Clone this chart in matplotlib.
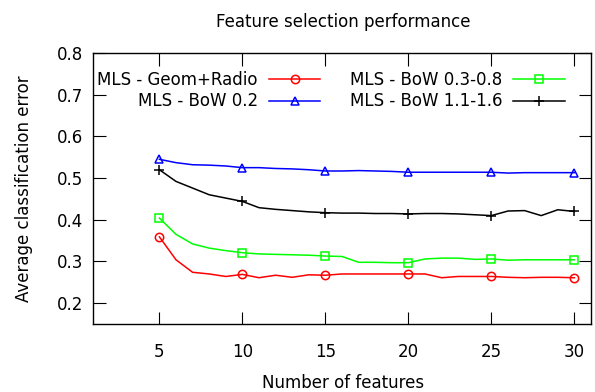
import matplotlib
matplotlib.use('Agg')
import matplotlib.pyplot as plt

# number of features
features = list(range(5, 31))

geom_radio = [0.359, 0.304, 0.274, 0.270, 0.264, 0.269, 0.261, 0.267, 0.262, 0.268, 0.267,
              0.270, 0.270, 0.270, 0.270, 0.270, 0.270, 0.261, 0.264, 0.264, 0.264,
              0.262, 0.261, 0.262, 0.262, 0.261]
bow_02 = [0.545, 0.537, 0.532, 0.531, 0.529, 0.525, 0.525, 0.523, 0.522, 0.520, 0.517,
          0.517, 0.518, 0.517, 0.516, 0.514, 0.514, 0.514, 0.514, 0.514, 0.514,
          0.512, 0.513, 0.513, 0.513, 0.513]
bow_03_08 = [0.404, 0.365, 0.342, 0.332, 0.326, 0.321, 0.318, 0.317, 0.316, 0.315, 0.313,
             0.312, 0.298, 0.298, 0.297, 0.297, 0.306, 0.308, 0.308, 0.305, 0.306,
             0.303, 0.304, 0.304, 0.304, 0.304]
bow_11_16 = [0.520, 0.492, 0.476, 0.460, 0.452, 0.444, 0.429, 0.425, 0.422, 0.419, 0.417,
             0.416, 0.416, 0.415, 0.415, 0.414, 0.415, 0.415, 0.414, 0.412, 0.410,
             0.421, 0.422, 0.410, 0.424, 0.420]

series = [
    ('MLS - Geom+Radio', geom_radio, '#ff0000', 'o'),
    ('MLS - BoW 0.2', bow_02, '#0000ff', '^'),
    ('MLS - BoW 0.3-0.8', bow_03_08, '#00ff00', 's'),
    ('MLS - BoW 1.1-1.6', bow_11_16, '#000000', '+'),
]

plt.rcParams['font.family'] = ['DejaVu Sans']
fs = 12

fig = plt.figure(figsize=(5.95, 3.92), dpi=100)
ax = fig.add_axes([93 / 595, 1 - 324 / 392, (591 - 93) / 595, (324 - 53) / 392])

for label, vals, color, marker in series:
    ax.plot(features, vals, color=color, lw=1.1, marker=marker, markevery=5,
            markersize=7 if marker == '+' else 6, markerfacecolor='none',
            markeredgecolor=color, markeredgewidth=1.1, label=label)

ax.set_xlim(1, 31)
ax.set_ylim(0.15, 0.8)
ax.set_xticks([5, 10, 15, 20, 25, 30])
ax.set_yticks([0.2, 0.3, 0.4, 0.5, 0.6, 0.7, 0.8])
ax.tick_params(axis='x', direction='in', length=9, top=True, pad=14, labelsize=fs)
ax.tick_params(axis='y', direction='in', length=9, right=True, pad=7, labelsize=fs)
for s in ax.spines.values():
    s.set_linewidth(1.0)

ax.legend(ncol=2, markerfirst=False, frameon=False, loc='upper center',
          bbox_to_anchor=(0.478, 0.958), handlelength=3.1, handletextpad=0.66,
          columnspacing=1.75, labelspacing=0.2, borderaxespad=0, fontsize=fs)

fig.text(343 / 595, 1 - 22 / 392, 'Feature selection performance', ha='center', va='center',
         fontsize=fs)
fig.text(343 / 595, 1 - 383 / 392, 'Number of features', ha='center', va='center',
         fontsize=fs)
fig.text(24 / 595, 1 - 189 / 392, 'Average classification error', ha='center', va='center',
         rotation=90, fontsize=fs)

fig.savefig('out.png', dpi=100)
